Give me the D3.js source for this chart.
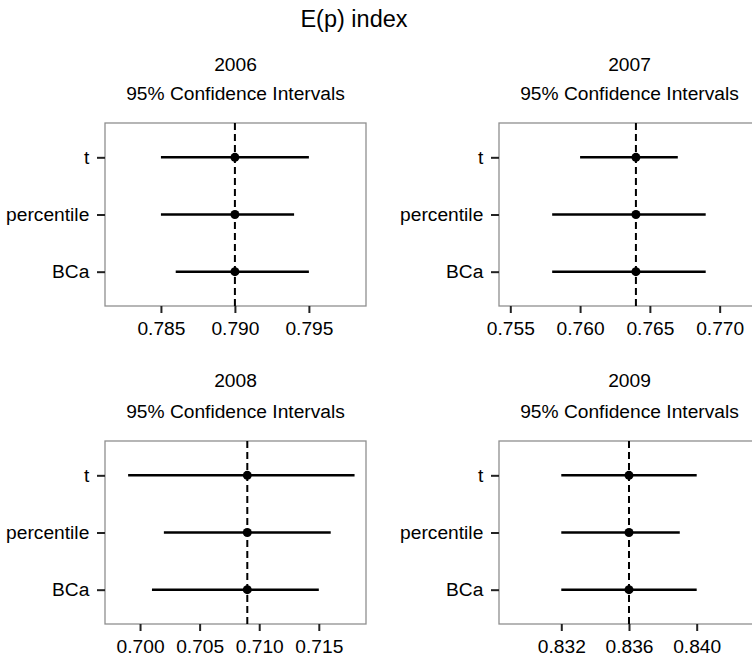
<!DOCTYPE html>
<html>
<head>
<meta charset="utf-8">
<script src="https://cdn.jsdelivr.net/npm/d3@7"></script>
<style>
  body { margin: 0; background: #fff; }
  text { font-family: "Liberation Sans", Arial, sans-serif; fill: #000; }
</style>
</head>
<body>
<svg id="chart" width="752" height="659"></svg>
<script>
// data
const years = ["2006", "2007", "2008", "2009"];
const methods = ["t", "percentile", "BCa"];
const estimate = [0.790, 0.764, 0.709, 0.836];
const tLower = [0.785, 0.760, 0.699, 0.832];
const tUpper = [0.795, 0.767, 0.718, 0.840];
const pctLower = [0.785, 0.758, 0.702, 0.832];
const pctUpper = [0.794, 0.769, 0.716, 0.839];
const bcaLower = [0.786, 0.758, 0.701, 0.832];
const bcaUpper = [0.795, 0.769, 0.715, 0.840];
// axis limits and tick labels for each panel
const xLimits = [[0.78122, 0.79886], [0.75419, 0.77289], [0.69706, 0.71896], [0.82832, 0.84374]];
const xTicks = [
  [0.785, 0.790, 0.795],
  [0.755, 0.760, 0.765, 0.770],
  [0.700, 0.705, 0.710, 0.715],
  [0.832, 0.836, 0.840]
];

const svg = d3.select("#chart");
const fs = 19.2;

// panel geometry
const colX = [105, 499];
const rowY = [123, 441];
const boxW = 261, boxH = 183;
const yearBase = [71, 387];
const subBase = [100, 418];

function label(sel, x, y, txt, size) {
  sel.append("text")
    .attr("x", x).attr("y", y)
    .attr("text-anchor", "middle")
    .style("font-size", size + "px")
    .text(txt);
}

label(svg, 354, 27, "E(p) index", 23.5);

years.forEach((yr, i) => {
  const col = i % 2, row = Math.floor(i / 2);
  const x0 = colX[col], y0 = rowY[row];
  const cx = x0 + boxW / 2;

  label(svg, cx, yearBase[row], yr, fs);
  label(svg, cx, subBase[row], "95% Confidence Intervals", fs);

  const g = svg.append("g").attr("transform", `translate(${x0},${y0})`);

  const x = d3.scaleLinear().domain(xLimits[i]).range([0, boxW]);
  const y = d3.scalePoint().domain(methods).range([0, boxH]).padding(0.6);

  const rows = [
    { m: "t", lo: tLower[i], hi: tUpper[i] },
    { m: "percentile", lo: pctLower[i], hi: pctUpper[i] },
    { m: "BCa", lo: bcaLower[i], hi: bcaUpper[i] }
  ];

  // panel box
  g.append("rect")
    .attr("width", boxW).attr("height", boxH)
    .attr("fill", "#fff")
    .attr("stroke", "#8f8f8f")
    .attr("stroke-width", 1.3);

  // dashed reference line at the estimate
  g.append("line")
    .attr("x1", x(estimate[i])).attr("x2", x(estimate[i]))
    .attr("y1", 0).attr("y2", boxH)
    .attr("stroke", "#000")
    .attr("stroke-width", 2)
    .attr("stroke-dasharray", "7,4");

  // intervals
  g.selectAll(".ci").data(rows).enter().append("line")
    .attr("class", "ci")
    .attr("x1", d => x(d.lo)).attr("x2", d => x(d.hi))
    .attr("y1", d => y(d.m)).attr("y2", d => y(d.m))
    .attr("stroke", "#000")
    .attr("stroke-width", 2.5);

  g.selectAll(".pt").data(rows).enter().append("circle")
    .attr("class", "pt")
    .attr("cx", x(estimate[i]))
    .attr("cy", d => y(d.m))
    .attr("r", 4.5)
    .attr("fill", "#000");

  // axes
  const xa = g.append("g")
    .attr("transform", `translate(0,${boxH})`)
    .call(d3.axisBottom(x).tickValues(xTicks[i]).tickFormat(d3.format(".3f"))
      .tickSize(7).tickPadding(8.4));
  const ya = g.append("g")
    .call(d3.axisLeft(y).tickSize(8).tickPadding(7.7));

  [xa, ya].forEach(a => {
    a.select(".domain").remove();
    a.selectAll(".tick line").attr("stroke", "#222").attr("stroke-width", 2);
    a.selectAll(".tick text")
      .attr("fill", "#000")
      .style("font-size", fs + "px")
      .style("font-family", "'Liberation Sans', Arial, sans-serif");
  });
});
</script>
</body>
</html>
